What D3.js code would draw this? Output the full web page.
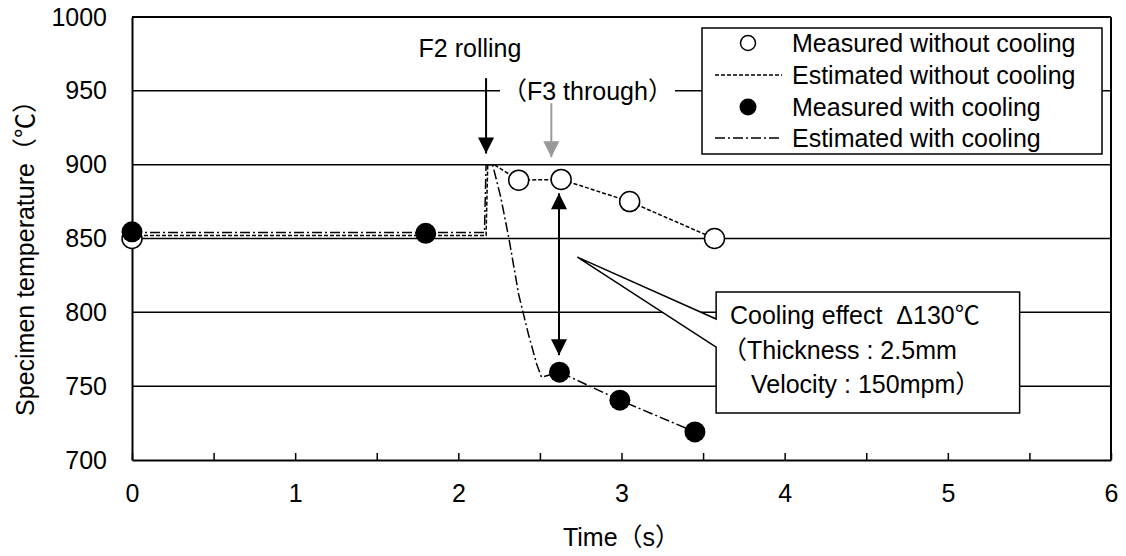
<!DOCTYPE html>
<html>
<head>
<meta charset="utf-8">
<script src="https://cdn.jsdelivr.net/npm/d3@7"></script>
<style>
  body { margin: 0; background: #fff; }
  svg text { font-family: "Liberation Sans", Arial, "Noto Sans CJK JP", sans-serif; fill: #000; }
</style>
</head>
<body>
<div id="graph"></div>
<script>
// measured points
var timeMeasuredNo = [0, 2.37, 2.63, 3.05, 3.57];
var tempMeasuredNo = [850, 889.5, 890, 875, 850];
var timeMeasuredCool = [0, 1.8, 2.62, 2.99, 3.45];
var tempMeasuredCool = [854.5, 853.5, 759.5, 740.5, 719];

// estimated curves
var timeEstNo = [0, 2.17, 2.18, 2.22, 2.37, 2.63, 3.05, 3.57];
var tempEstNo = [852, 852, 900, 900, 889.5, 890, 875, 850];
var timeEstCool = [0, 2.16, 2.17, 2.21, 2.26, 2.31, 2.37, 2.43, 2.48, 2.51, 2.62, 2.99, 3.45];
var tempEstCool = [854, 854, 900, 900, 878, 850, 812, 785, 765, 756, 759.5, 740.5, 719];

var xTicks = [0, 0.5, 1, 1.5, 2, 2.5, 3, 3.5, 4, 4.5, 5, 5.5, 6];
var yTicks = [700, 750, 800, 850, 900, 950, 1000];

var legendLabels = ["Measured without cooling", "Estimated without cooling",
                    "Measured with cooling", "Estimated with cooling"];

(function() {
var W = 1126, H = 556;
var pL = 132, pR = 1111, pT = 17, pB = 460;
var fs = 25;

var svg = d3.select("#graph").append("svg")
  .attr("width", W).attr("height", H);

var x = d3.scaleLinear().domain([0, 6]).range([pL, pR]);
var y = d3.scaleLinear().domain([700, 1000]).range([pB, pT]);

function zip(a, b) { return a.map(function(d, i) { return [d, b[i]]; }); }
var line = d3.line().x(function(d) { return x(d[0]); }).y(function(d) { return y(d[1]); });

// gridlines
svg.append("g").selectAll("line")
  .data(yTicks.slice(1, -1))
  .enter().append("line")
  .attr("x1", pL).attr("x2", pR)
  .attr("y1", function(d) { return y(d); }).attr("y2", function(d) { return y(d); })
  .attr("stroke", "#000").attr("stroke-width", 1.5);

// frame top / right
svg.append("line").attr("x1", pL).attr("x2", pR).attr("y1", pT).attr("y2", pT)
  .attr("stroke", "#000").attr("stroke-width", 2);
svg.append("line").attr("x1", pR).attr("x2", pR).attr("y1", pT).attr("y2", pB)
  .attr("stroke", "#000").attr("stroke-width", 2);

// axes
var yAxis = svg.append("g").attr("transform", "translate(" + pL + ",0)")
  .call(d3.axisLeft(y).tickValues(yTicks).tickSize(0).tickPadding(25).tickFormat(d3.format("d")));
var xAxis = svg.append("g").attr("transform", "translate(0," + pB + ")")
  .call(d3.axisBottom(x).tickValues(xTicks).tickSizeInner(-7).tickSizeOuter(0).tickPadding(24)
    .tickFormat(function(d) { return d % 1 === 0 ? d : ""; }));
[xAxis, yAxis].forEach(function(a) {
  a.select(".domain").attr("stroke", "#000").attr("stroke-width", 2);
  a.selectAll(".tick line").attr("stroke", "#000").attr("stroke-width", 1.5);
  a.selectAll("text").attr("font-size", fs).attr("font-family", null);
});

// axis titles
svg.append("text").attr("x", (pL + pR) / 2).attr("y", 537)
  .attr("text-anchor", "middle").attr("dominant-baseline", "central")
  .attr("font-size", fs).text("Time（s）");
svg.append("text").attr("transform", "translate(25,252) rotate(-90)")
  .attr("text-anchor", "middle").attr("dominant-baseline", "central")
  .attr("font-size", fs).text("Specimen temperature（℃）");

// estimated lines
svg.append("path").datum(zip(timeEstNo, tempEstNo)).attr("d", line)
  .attr("fill", "none").attr("stroke", "#000").attr("stroke-width", 1.5)
  .attr("stroke-dasharray", "4,2");
svg.append("path").datum(zip(timeEstCool, tempEstCool)).attr("d", line)
  .attr("fill", "none").attr("stroke", "#000").attr("stroke-width", 1.5)
  .attr("stroke-dasharray", "10,3,2,3");

// F3 through label (hides gridline behind it)
svg.append("rect").attr("x", 500).attr("y", 76).attr("width", 175).attr("height", 28).attr("fill", "#fff");
svg.append("text").attr("x", 502).attr("y", y(950)).attr("dominant-baseline", "central")
  .attr("font-size", fs).text("（F3 through）");
svg.append("text").attr("x", 470).attr("y", 48).attr("text-anchor", "middle")
  .attr("dominant-baseline", "central").attr("font-size", fs).text("F2 rolling");

// arrows
function arrowHead(xp, yp, dir, col) {
  svg.append("path")
    .attr("d", "M" + xp + "," + yp + "l-8," + (-16 * dir) + "l16,0z")
    .attr("fill", col);
}
function vArrow(t, from, to, col, both) {
  svg.append("line").attr("x1", x(t)).attr("x2", x(t))
    .attr("y1", y(from)).attr("y2", y(to))
    .attr("stroke", col).attr("stroke-width", 2);
  arrowHead(x(t), y(to), 1, col);
  if (both) arrowHead(x(t), y(from), -1, col);
}
vArrow(2.17, 958.6, 907.5, "#000", false);
vArrow(2.57, 941.6, 905, "#999", false);
vArrow(2.617, 880.6, 771, "#000", true);

// callout box with pointer
var cb = { x0: 3.58, x1: 5.44, y0: 813.7, y1: 731.8, tipX: 2.73, tipY: 837.4, p0: 776.5, p1: 795.5 };
svg.append("path")
  .attr("d", "M" + x(cb.x0) + "," + y(cb.y0) + "L" + x(cb.x1) + "," + y(cb.y0) +
    "L" + x(cb.x1) + "," + y(cb.y1) + "L" + x(cb.x0) + "," + y(cb.y1) +
    "L" + x(cb.x0) + "," + y(cb.p0) + "L" + x(cb.tipX) + "," + y(cb.tipY) +
    "L" + x(cb.x0) + "," + y(cb.p1) + "Z")
  .attr("fill", "#fff").attr("stroke", "#000").attr("stroke-width", 1.5);
var calloutLines = [["Cooling effect  Δ130℃", 730, 315], ["（Thickness : 2.5mm", 722, 350], [" Velocity : 150mpm）", 744, 384]];
svg.append("g").selectAll("text").data(calloutLines).enter().append("text")
  .attr("x", function(d) { return d[1]; }).attr("y", function(d) { return d[2]; })
  .attr("dominant-baseline", "central").attr("font-size", fs).attr("xml:space", "preserve")
  .text(function(d) { return d[0]; });

// measured points
svg.append("g").selectAll("circle").data(zip(timeMeasuredNo, tempMeasuredNo)).enter()
  .append("circle").attr("cx", function(d) { return x(d[0]); }).attr("cy", function(d) { return y(d[1]); })
  .attr("r", 10).attr("fill", "#fff").attr("stroke", "#000").attr("stroke-width", 1.5);
svg.append("g").selectAll("circle").data(zip(timeMeasuredCool, tempMeasuredCool)).enter()
  .append("circle").attr("cx", function(d) { return x(d[0]); }).attr("cy", function(d) { return y(d[1]); })
  .attr("r", 10.5).attr("fill", "#000");

// legend
var lg = svg.append("g");
lg.append("rect").attr("x", 702).attr("y", 28).attr("width", 400).attr("height", 126)
  .attr("fill", "#fff").attr("stroke", "#000").attr("stroke-width", 1.5);
var rowY = [43, 75, 107, 138];
lg.selectAll("text").data(legendLabels).enter().append("text")
  .attr("x", 792).attr("y", function(d, i) { return rowY[i]; })
  .attr("dominant-baseline", "central").attr("font-size", fs).text(function(d) { return d; });
lg.append("circle").attr("cx", 748).attr("cy", rowY[0]).attr("r", 7.5)
  .attr("fill", "#fff").attr("stroke", "#000").attr("stroke-width", 1.5);
lg.append("circle").attr("cx", 748).attr("cy", rowY[2]).attr("r", 8.5).attr("fill", "#000");
lg.append("line").attr("x1", 715).attr("x2", 782).attr("y1", rowY[1]).attr("y2", rowY[1])
  .attr("stroke", "#000").attr("stroke-width", 1.5).attr("stroke-dasharray", "4,2");
lg.append("line").attr("x1", 715).attr("x2", 782).attr("y1", rowY[3]).attr("y2", rowY[3])
  .attr("stroke", "#000").attr("stroke-width", 1.5).attr("stroke-dasharray", "10,3,2,3");
})();
</script>
</body>
</html>
